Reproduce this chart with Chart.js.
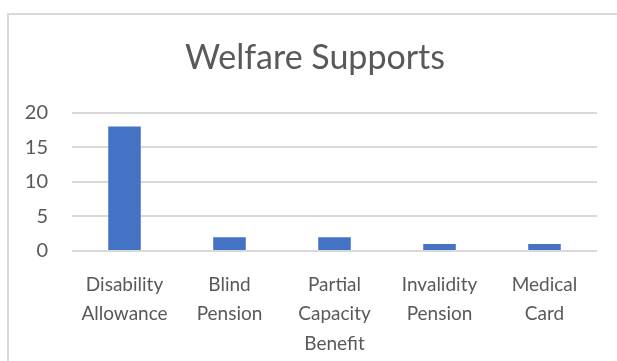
<!DOCTYPE html>
<html lang="en">
  <head>
    <meta charset="UTF-8" />
    <title>Welfare Supports</title>
    <script src="https://cdn.jsdelivr.net/npm/chart.js"></script>
    <style>
      body { margin: 0; background: #fff; }
      #frame {
        position: absolute; left: 7px; top: 13px;
        width: 640px; height: 400px;
        border: 2px solid #d9d9d9; box-sizing: border-box;
      }
      #wrap { position: absolute; left: 0; top: 0; width: 617px; height: 361px; }
    </style>
  </head>
  <body>
    <div id="frame"></div>
    <div id="wrap"><canvas id="chart"></canvas></div>

    <script>
      // data
      const categories = [
        ["Disability", "Allowance"],
        ["Blind", "Pension"],
        ["Partial", "Capacity", "Benefit"],
        ["Invalidity", "Pension"],
        ["Medical", "Card"],
      ];
      const counts = [18, 2, 2, 1, 1];
      const yTicks = [0, 5, 10, 15, 20];

      const textColor = "#595959";
      const gridColor = "#d9d9d9";
      const font = "Lato";

      new Chart(document.getElementById("chart"), {
        type: "bar",
        data: {
          labels: categories,
          datasets: [
            {
              label: "Welfare Supports",
              data: counts,
              backgroundColor: "#4472c4",
              categoryPercentage: 1,
              barPercentage: 0.31,
            },
          ],
        },
        options: {
          responsive: true,
          maintainAspectRatio: false,
          animation: false,
          layout: { padding: { left: 13, right: 0, top: 0, bottom: 0 } },
          plugins: {
            legend: { display: false },
            tooltip: { enabled: false },
            title: {
              display: true,
              text: "Welfare Supports",
              color: textColor,
              font: { family: font, size: 34, weight: "normal" },
              padding: { top: 38, bottom: 34 },
            },
          },
          scales: {
            x: {
              grid: { display: false },
              border: { display: false },
              ticks: {
                color: textColor,
                font: { family: font, size: 19, lineHeight: 1.55 },
                padding: 11,
                maxRotation: 0,
                autoSkip: false,
              },
              afterFit: (s) => { s.height = 110; },
            },
            y: {
              min: 0,
              max: 20,
              afterBuildTicks: (s) => { s.ticks = yTicks.map((v) => ({ value: v })); },
              grid: { color: gridColor, lineWidth: 2, drawTicks: false },
              border: { display: false },
              ticks: {
                color: textColor,
                font: { family: font, size: 20 },
                padding: 24,
              },
              afterFit: (s) => { s.width = 59; },
            },
            pad: {
              position: "right",
              min: 0,
              max: 1,
              grid: { display: false },
              border: { display: false },
              ticks: { display: false },
              afterFit: (s) => { s.width = 20; },
            },
          },
        },
      });
    </script>
  </body>
</html>
